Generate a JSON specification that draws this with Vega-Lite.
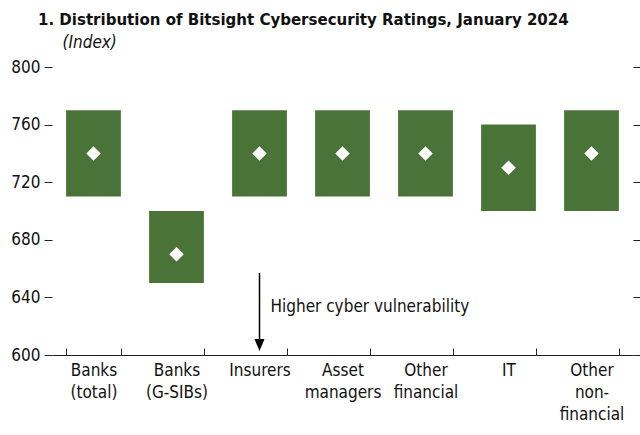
{
  "$schema": "https://vega.github.io/schema/vega-lite/v6.json",
  "autosize": {"type": "none"},
  "width": 581,
  "height": 288,
  "padding": {"left": 52, "top": 67, "right": 7, "bottom": 80},
  "background": "white",
  "config": {
    "view": {"stroke": null},
    "font": "DejaVu Sans Condensed",
    "axis": {"labelFont": "DejaVu Sans Condensed", "labelFontSize": 17, "labelColor": "#111", "titleFont": "DejaVu Sans Condensed"}
  },
  "title": {
    "text": "1. Distribution of Bitsight Cybersecurity Ratings, January 2024",
    "anchor": "start",
    "frame": "group",
    "dx": -14,
    "font": "DejaVu Sans Condensed",
    "fontSize": 16.7,
    "fontWeight": "bold",
    "color": "#111",
    "offset": 4
  },
  "datasets": {
    "ratings": [
      {"sector": "Banks\n(total)", "low": 710, "high": 770, "median": 740},
      {"sector": "Banks\n(G-SIBs)", "low": 650, "high": 700, "median": 670},
      {"sector": "Insurers", "low": 710, "high": 770, "median": 740},
      {"sector": "Asset\nmanagers", "low": 710, "high": 770, "median": 740},
      {"sector": "Other\nfinancial", "low": 710, "high": 770, "median": 740},
      {"sector": "IT", "low": 700, "high": 760, "median": 730},
      {"sector": "Other\nnon-\nfinancial", "low": 700, "high": 770, "median": 740}
    ],
    "note": [
      {"sector": "Insurers", "start": 657, "end": 609, "tip": 607, "textY": 633, "label": "Higher cyber vulnerability"}
    ]
  },
  "layer": [
    {
      "data": {"name": "ratings"},
      "mark": {"type": "bar", "color": "#4a7337"},
      "encoding": {
        "x": {
          "field": "sector", "type": "nominal", "sort": null,
          "scale": {"paddingInner": 0.34, "paddingOuter": 0.17},
          "axis": {
            "title": null, "labelAngle": 0,
            "labelExpr": "isValid(datum.value) ? split(datum.value, '\\n') : ''",
            "labelLineHeight": 22,
            "labelBaseline": "top",
            "labelPadding": 14,
            "tickBand": "extent",
            "tickSize": -7,
            "tickColor": "#222",
            "domainColor": "#222",
            "tickWidth": 1,
            "domainWidth": 1
          }
        },
        "y": {
          "field": "low", "type": "quantitative",
          "scale": {"domain": [600, 800], "nice": false, "zero": false},
          "axis": {
            "orient": "left",
            "values": [600, 640, 680, 720, 760, 800],
            "grid": false, "domain": false,
            "tickSize": 8, "tickColor": "#222", "labelPadding": 4,
            "title": "(Index)", "titleAngle": 0, "titleAlign": "left", "titleBaseline": "alphabetic",
            "titleX": 10, "titleY": -20, "titleFontSize": 17, "titleFontStyle": "italic", "titleFontWeight": "normal", "titleColor": "#111"
          }
        },
        "y2": {"field": "high"}
      }
    },
    {
      "data": {"name": "ratings"},
      "mark": {"type": "point", "shape": "diamond", "filled": true, "color": "white", "opacity": 1, "size": 210},
      "encoding": {
        "x": {"field": "sector", "type": "nominal", "sort": null},
        "y": {
          "field": "median", "type": "quantitative",
          "axis": {
            "orient": "right",
            "values": [600, 640, 680, 720, 760, 800],
            "labels": false, "grid": false, "domain": false,
            "tickSize": 7, "tickColor": "#222", "title": null
          }
        }
      }
    },
    {
      "data": {"name": "note"},
      "mark": {"type": "rule", "color": "black", "strokeWidth": 1.5},
      "encoding": {
        "x": {"field": "sector", "type": "nominal", "sort": null},
        "y": {"field": "start", "type": "quantitative", "axis": null},
        "y2": {"field": "end"}
      }
    },
    {
      "data": {"name": "note"},
      "mark": {"type": "point", "shape": "M-1,-1.2L1,-1.2L0,1.2Z", "filled": true, "color": "black", "opacity": 1, "size": 100},
      "encoding": {
        "x": {"field": "sector", "type": "nominal", "sort": null},
        "y": {"field": "tip", "type": "quantitative", "axis": null}
      }
    },
    {
      "data": {"name": "note"},
      "mark": {"type": "text", "align": "left", "baseline": "middle", "dx": 11, "fontSize": 17, "color": "#111"},
      "encoding": {
        "x": {"field": "sector", "type": "nominal", "sort": null},
        "y": {"field": "textY", "type": "quantitative", "axis": null},
        "text": {"field": "label"}
      }
    }
  ],
  "resolve": {"axis": {"y": "independent"}}
}
